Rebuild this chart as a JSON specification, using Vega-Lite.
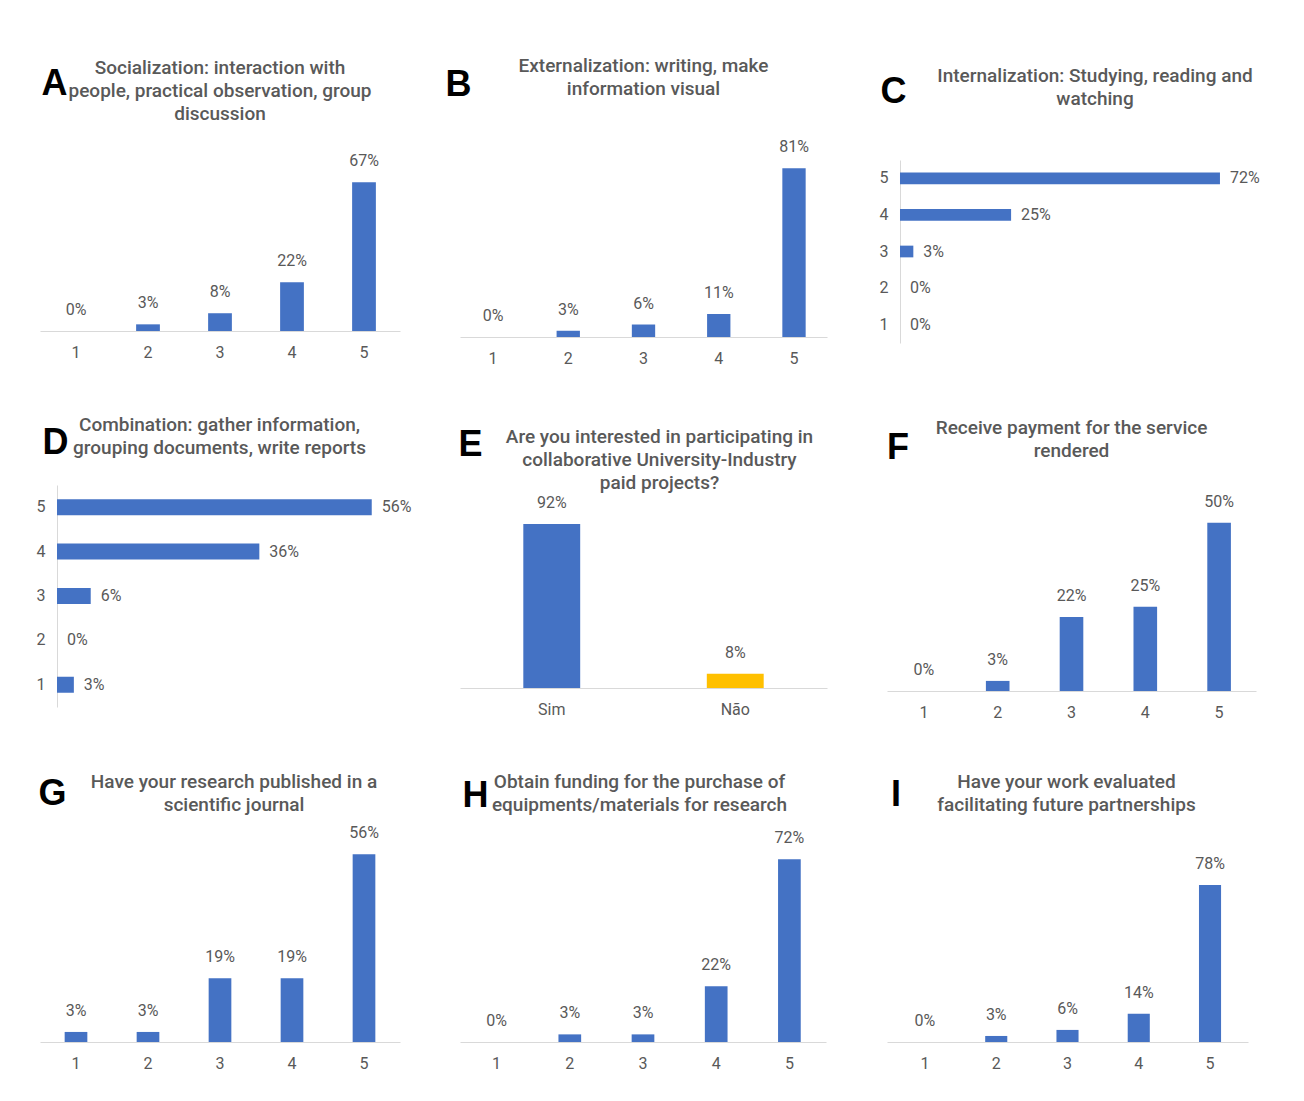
{
  "$schema": "https://vega.github.io/schema/vega-lite/v6.json",
  "background": "#ffffff",
  "padding": {"left": 36, "top": 56, "right": 0, "bottom": 0},
  "datasets": {
    "A": [{"cat": "1", "v": 0}, {"cat": "2", "v": 0.03}, {"cat": "3", "v": 0.08}, {"cat": "4", "v": 0.22}, {"cat": "5", "v": 0.67}],
    "B": [{"cat": "1", "v": 0}, {"cat": "2", "v": 0.03}, {"cat": "3", "v": 0.06}, {"cat": "4", "v": 0.11}, {"cat": "5", "v": 0.81}],
    "C": [{"cat": "1", "v": 0}, {"cat": "2", "v": 0}, {"cat": "3", "v": 0.03}, {"cat": "4", "v": 0.25}, {"cat": "5", "v": 0.72}],
    "D": [{"cat": "1", "v": 0.03}, {"cat": "2", "v": 0}, {"cat": "3", "v": 0.06}, {"cat": "4", "v": 0.36}, {"cat": "5", "v": 0.56}],
    "E": [{"cat": "Sim", "v": 0.92}, {"cat": "Não", "v": 0.08}],
    "F": [{"cat": "1", "v": 0}, {"cat": "2", "v": 0.03}, {"cat": "3", "v": 0.22}, {"cat": "4", "v": 0.25}, {"cat": "5", "v": 0.50}],
    "G": [{"cat": "1", "v": 0.03}, {"cat": "2", "v": 0.03}, {"cat": "3", "v": 0.19}, {"cat": "4", "v": 0.19}, {"cat": "5", "v": 0.56}],
    "H": [{"cat": "1", "v": 0}, {"cat": "2", "v": 0.03}, {"cat": "3", "v": 0.03}, {"cat": "4", "v": 0.22}, {"cat": "5", "v": 0.72}],
    "I": [{"cat": "1", "v": 0}, {"cat": "2", "v": 0.03}, {"cat": "3", "v": 0.06}, {"cat": "4", "v": 0.14}, {"cat": "5", "v": 0.78}]
  },
  "config": {
    "view": {"stroke": null},
    "axis": {"grid": false, "ticks": false, "domainColor": "#d9d9d9", "domainWidth": 1, "labelColor": "#595959", "labelFont": "Roboto", "labelFontSize": 16, "titleFont": "Liberation Sans", "titleFontSize": 36, "titleFontWeight": "bold", "titleColor": "#000000", "titleAngle": 0, "titleAlign": "center", "titleBaseline": "middle"},
    "title": {"font": "Roboto", "fontSize": 19, "fontWeight": 500, "color": "#595959", "lineHeight": 23, "anchor": "middle", "frame": "group"},
    "text": {"font": "Roboto", "fontSize": 16, "color": "#595959"},
    "bar": {"color": "#4472C4"}
  },
  "bounds": "flush",
  "align": "each",
  "columns": 3,
  "spacing": {"row": 142, "column": 60},
  "concat": [
    {
      "width": 360, "height": 171,
      "data": {"name": "A"},
      "title": {"text": ["Socialization: interaction with", "people, practical observation, group", "discussion"], "offset": -58},
      "encoding": {
        "x": {"field": "cat", "type": "nominal", "scale": {"paddingInner": 0.67, "paddingOuter": 0.335}, "axis": {"title": null, "labelAngle": 0, "labelPadding": 13}},
        "y": {"field": "v", "type": "quantitative", "scale": {"domain": [0, 0.77]}, "axis": {"title": "A", "labels": false, "domain": false, "titleX": 14, "titleY": -76.5}}
      },
      "layer": [
        {"mark": {"type": "bar"}},
        {"mark": {"type": "text", "dy": -21, "baseline": "middle"}, "encoding": {"text": {"field": "v", "format": ".0%"}}}
      ]
    },
    {
      "width": 367, "height": 177,
      "data": {"name": "B"},
      "title": {"text": ["Externalization: writing, make", "information visual"], "offset": -32},
      "encoding": {
        "x": {"field": "cat", "type": "nominal", "scale": {"paddingInner": 0.69, "paddingOuter": 0.2835}, "axis": {"title": null, "labelAngle": 0, "labelPadding": 13}},
        "y": {"field": "v", "type": "quantitative", "scale": {"domain": [0, 0.85]}, "axis": {"title": "B", "labels": false, "domain": false, "titleX": -2, "titleY": -75.5}}
      },
      "layer": [
        {"mark": {"type": "bar"}},
        {"mark": {"type": "text", "dy": -21, "baseline": "middle"}, "encoding": {"text": {"field": "v", "format": ".0%"}}}
      ]
    },
    {
      "width": 403, "height": 183,
      "data": {"name": "C"},
      "title": {"text": ["Internalization: Studying, reading and", "watching"], "offset": -35.5, "dx": 6.5},
      "encoding": {
        "y": {"field": "cat", "type": "nominal", "sort": ["5", "4", "3", "2", "1"], "scale": {"paddingInner": 0.68, "paddingOuter": 0.34}, "axis": {"title": "C", "labelPadding": 12, "offset": -13, "titleX": -7, "titleY": -69}},
        "x": {"field": "v", "type": "quantitative", "scale": {"domain": [-0.02925, 0.8776]}, "axis": null}
      },
      "layer": [
        {"mark": {"type": "bar"}},
        {"mark": {"type": "text", "dx": 10, "align": "left", "baseline": "middle"}, "encoding": {"text": {"field": "v", "format": ".0%"}}}
      ]
    },
    {
      "width": 359, "height": 222,
      "data": {"name": "D"},
      "title": {"text": ["Combination: gather information,", "grouping documents, write reports"], "offset": -33.5},
      "encoding": {
        "y": {"field": "cat", "type": "nominal", "sort": ["5", "4", "3", "2", "1"], "scale": {"paddingInner": 0.64, "paddingOuter": 0.32}, "axis": {"title": "D", "labelPadding": 12, "offset": -17, "titleX": -2, "titleY": -43}},
        "x": {"field": "v", "type": "quantitative", "scale": {"domain": [-0.03025, 0.6085]}, "axis": null}
      },
      "layer": [
        {"mark": {"type": "bar"}},
        {"mark": {"type": "text", "dx": 10, "align": "left", "baseline": "middle"}, "encoding": {"text": {"field": "v", "format": ".0%"}}}
      ]
    },
    {
      "width": 367, "height": 203,
      "data": {"name": "E"},
      "title": {"text": ["Are you interested in participating in", "collaborative University-Industry", "paid projects?"], "offset": -66, "dx": 16},
      "encoding": {
        "x": {"field": "cat", "type": "nominal", "sort": ["Sim", "Não"], "scale": {"paddingInner": 0.69, "paddingOuter": 0.345}, "axis": {"title": null, "labelAngle": 0, "labelPadding": 13}},
        "y": {"field": "v", "type": "quantitative", "scale": {"domain": [0, 1.139]}, "axis": {"title": "E", "labels": false, "domain": false, "titleX": 10, "titleY": -40.5}}
      },
      "layer": [
        {"mark": {"type": "bar"}, "encoding": {"color": {"field": "cat", "type": "nominal", "scale": {"domain": ["Sim", "Não"], "range": ["#4472C4", "#FFC000"]}, "legend": null}}},
        {"mark": {"type": "text", "dy": -21, "baseline": "middle"}, "encoding": {"text": {"field": "v", "format": ".0%"}}}
      ]
    },
    {
      "width": 369, "height": 206,
      "data": {"name": "F"},
      "title": {"text": ["Receive payment for the service", "rendered"], "offset": -31},
      "encoding": {
        "x": {"field": "cat", "type": "nominal", "scale": {"paddingInner": 0.68, "paddingOuter": 0.34}, "axis": {"title": null, "labelAngle": 0, "labelPadding": 13}},
        "y": {"field": "v", "type": "quantitative", "scale": {"domain": [0, 0.612]}, "axis": {"title": "F", "labels": false, "domain": false, "titleX": 10.5, "titleY": -37.5}}
      },
      "layer": [
        {"mark": {"type": "bar"}},
        {"mark": {"type": "text", "dy": -21, "baseline": "middle"}, "encoding": {"text": {"field": "v", "format": ".0%"}}}
      ]
    },
    {
      "width": 360, "height": 193,
      "data": {"name": "G"},
      "title": {"text": ["Have your research published in a", "scientific journal"], "offset": -39, "dx": 14},
      "encoding": {
        "x": {"field": "cat", "type": "nominal", "scale": {"paddingInner": 0.685, "paddingOuter": 0.3425}, "axis": {"title": null, "labelAngle": 0, "labelPadding": 13}},
        "y": {"field": "v", "type": "quantitative", "scale": {"domain": [0, 0.576]}, "axis": {"title": "G", "labels": false, "domain": false, "titleX": 12, "titleY": -55.5}}
      },
      "layer": [
        {"mark": {"type": "bar"}},
        {"mark": {"type": "text", "dy": -21, "baseline": "middle"}, "encoding": {"text": {"field": "v", "format": ".0%"}}}
      ]
    },
    {
      "width": 366, "height": 193,
      "data": {"name": "H"},
      "title": {"text": ["Obtain funding for the purchase of", "equipments/materials for research"], "offset": -37.5, "dx": -3.5},
      "encoding": {
        "x": {"field": "cat", "type": "nominal", "scale": {"paddingInner": 0.69, "paddingOuter": 0.345}, "axis": {"title": null, "labelAngle": 0, "labelPadding": 13}},
        "y": {"field": "v", "type": "quantitative", "scale": {"domain": [0, 0.76]}, "axis": {"title": "H", "labels": false, "domain": false, "titleX": 15, "titleY": -54}}
      },
      "layer": [
        {"mark": {"type": "bar"}},
        {"mark": {"type": "text", "dy": -21, "baseline": "middle"}, "encoding": {"text": {"field": "v", "format": ".0%"}}}
      ]
    },
    {
      "width": 361, "height": 193,
      "data": {"name": "I"},
      "title": {"text": ["Have your work evaluated", "facilitating future partnerships"], "offset": -38, "dx": -1},
      "encoding": {
        "x": {"field": "cat", "type": "nominal", "scale": {"paddingInner": 0.69, "paddingOuter": 0.378}, "axis": {"title": null, "labelAngle": 0, "labelPadding": 13}},
        "y": {"field": "v", "type": "quantitative", "scale": {"domain": [0, 0.959]}, "axis": {"title": "I", "labels": false, "domain": false, "titleX": 8.5, "titleY": -54.5}}
      },
      "layer": [
        {"mark": {"type": "bar"}},
        {"mark": {"type": "text", "dy": -21, "baseline": "middle"}, "encoding": {"text": {"field": "v", "format": ".0%"}}}
      ]
    }
  ]
}
